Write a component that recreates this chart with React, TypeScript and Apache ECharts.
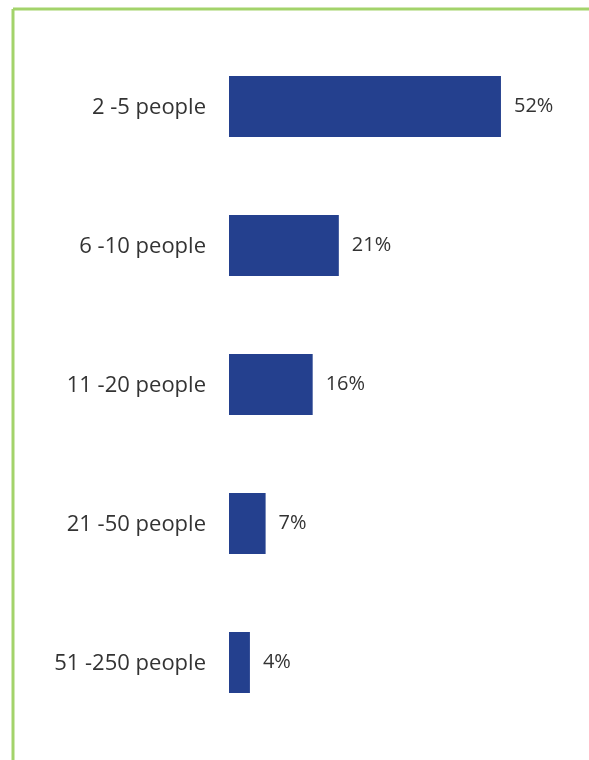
import React, { useEffect, useRef } from "react";
import * as echarts from "echarts";

const categories = ["2 -5 people", "6 -10 people", "11 -20 people", "21 -50 people", "51 -250 people"];
const values = [52, 21, 16, 7, 4];

export default function App() {
  const ref = useRef<HTMLDivElement>(null);
  useEffect(() => {
    if (!ref.current) return;
    const chart = echarts.init(ref.current, null, { renderer: "svg" });
    chart.setOption({
      animation: false,
      grid: { left: 229, top: 37, width: 60 * 5.23, height: 695 },
      xAxis: { type: "value", min: 0, max: 60, show: false },
      yAxis: {
        type: "category",
        data: categories,
        inverse: true,
        axisLine: { show: false },
        axisTick: { show: false },
        axisLabel: {
          margin: 23,
          formatter: "{a|{value}}",
          rich: {
            a: {
              fontSize: 22,
              color: "#333333",
              fontFamily: "Open Sans",
              padding: [0, 0, 4, 0],
            },
          },
        },
      },
      series: [
        {
          type: "bar",
          data: values,
          barWidth: 61,
          itemStyle: { color: "#24408e" },
          label: {
            show: true,
            position: "right",
            distance: 13,
            formatter: "{c}%",
            fontSize: 20,
            color: "#333333",
            fontFamily: "Open Sans",
            offset: [0, -2],
          },
        },
      ],
      graphic: [
        { type: "line", shape: { x1: 13, y1: 9, x2: 589, y2: 9 }, style: { stroke: "#a3d36b", lineWidth: 3 } },
        { type: "line", shape: { x1: 13, y1: 9, x2: 13, y2: 760 }, style: { stroke: "#a3d36b", lineWidth: 3 } },
      ],
    });
    return () => chart.dispose();
  }, []);
  return <div ref={ref} style={{ position: "fixed", left: 0, top: 0, width: 589, height: 760 }} />;
}
